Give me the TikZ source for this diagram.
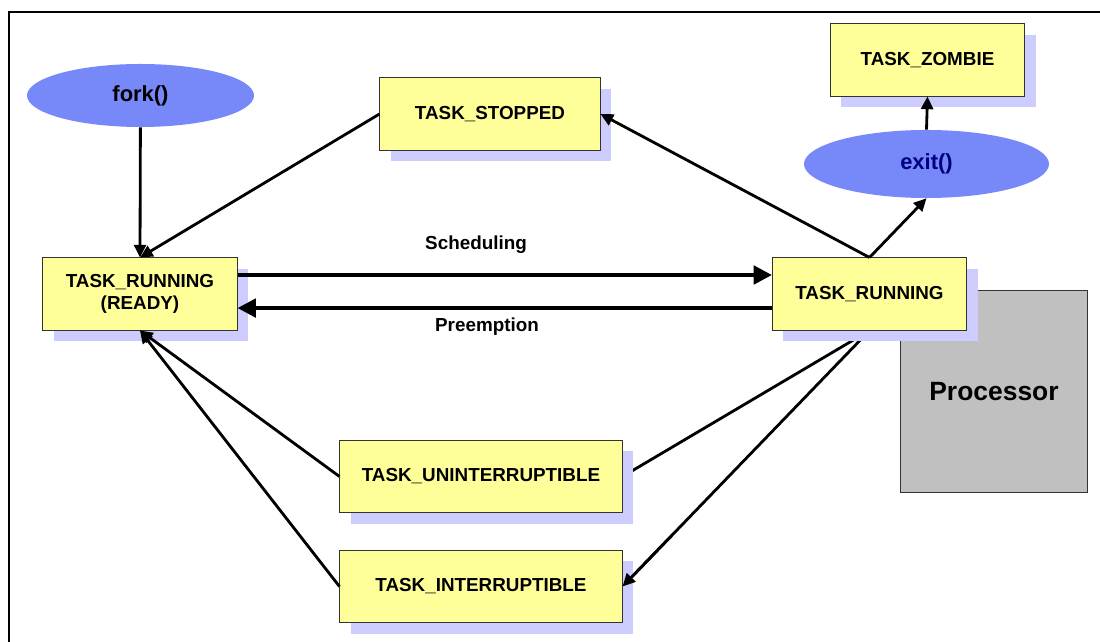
\documentclass[tikz,border=0pt]{standalone}
\usepackage{fontspec}
\setmainfont{Liberation Sans}
\usetikzlibrary{arrows.meta,shadows,backgrounds,shapes.geometric,calc}

\definecolor{taskyellow}{RGB}{255,255,153}
\definecolor{shadowblue}{RGB}{204,204,255}
\definecolor{callblue}{RGB}{119,136,248}
\definecolor{procgray}{RGB}{192,192,192}
\definecolor{exitnavy}{RGB}{0,0,128}

\tikzset{
  task/.style={draw=black!80, line width=0.7pt, fill=taskyellow, inner sep=0pt,
    minimum width=4.85cm, minimum height=1.8cm, align=center,
    font=\fontsize{13.4}{16}\selectfont\bfseries,
    general shadow={fill=shadowblue, shadow xshift=0.275cm, shadow yshift=-0.275cm}},
  wide/.style={minimum width=7.05cm},
  call/.style={ellipse, fill=callblue, inner sep=0pt,
    font=\fontsize{15.6}{18}\selectfont\bfseries},
  lbl/.style={font=\fontsize{13.4}{16}\selectfont\bfseries},
  trans/.style={line width=2pt, -{Triangle[length=9pt,width=8.5pt]}},
  thick trans/.style={line width=2.8pt, -{Triangle[length=13pt,width=13pt]}},
}

\begin{document}
\begin{tikzpicture}[x=0.025cm, y=-0.025cm]
\useasboundingbox (0,0) rectangle (1100,642);
\draw[line width=0.8pt] (9,642)--(9,12)--(1100,12);

% states
\node[draw=black!80, line width=0.7pt, fill=procgray, minimum width=4.65cm,
  minimum height=5.025cm, font=\fontsize{18.8}{22}\selectfont\bfseries] (proc) at (994,391.5) {Processor};
\node[call, minimum width=5.675cm, minimum height=1.575cm] (fork) at (140.5,95.5) {fork()};
\node[call, minimum width=6.125cm, minimum height=1.7cm, text=exitnavy] (exit) at (926.5,164) {exit()};
\node[task, minimum width=5.5cm] (stopped) at (490,114) {TASK\_STOPPED};
\node[task] (zombie) at (927.5,60) {TASK\_ZOMBIE};
\node[task] (ready) at (140,294) {TASK\_RUNNING\\(READY)};
\node[task] (running) at (869.5,294) {TASK\_RUNNING};
\node[task, wide] (unint) at (481,476.5) {TASK\_UNINTERRUPTIBLE};
\node[task, wide] (inter) at (481,586.5) {TASK\_INTERRUPTIBLE};

% transitions
\draw[trans] (fork) -- (ready.north);
\draw[trans] (stopped.west) -- (ready.north);
\draw[trans] (running.north) -- (stopped.east);
\draw[trans] (running.north) -- (exit.south);
\draw[trans] (exit.north) -- (zombie.south);
\draw[thick trans] ([yshift=13.5pt]ready.east) -- ([yshift=13.5pt]running.west);
\draw[thick trans] ([yshift=-10pt]running.west) -- ([yshift=-10pt]ready.east);
\node[lbl] (sched) at (476,245) {Scheduling};
\node[lbl] (preempt) at (487,327) {Preemption};
\begin{scope}[on background layer]
\draw[line width=2pt] (running.south) -- (unint.east);
\draw[line width=2pt] (running.south) -- (inter.east);
\end{scope}
\draw[trans] ($(running.south)!0.8!(inter.east)$) -- (inter.east);
\draw[trans] (unint.west) -- (ready.south);
\draw[trans] (inter.west) -- (ready.south);
\end{tikzpicture}
\end{document}
